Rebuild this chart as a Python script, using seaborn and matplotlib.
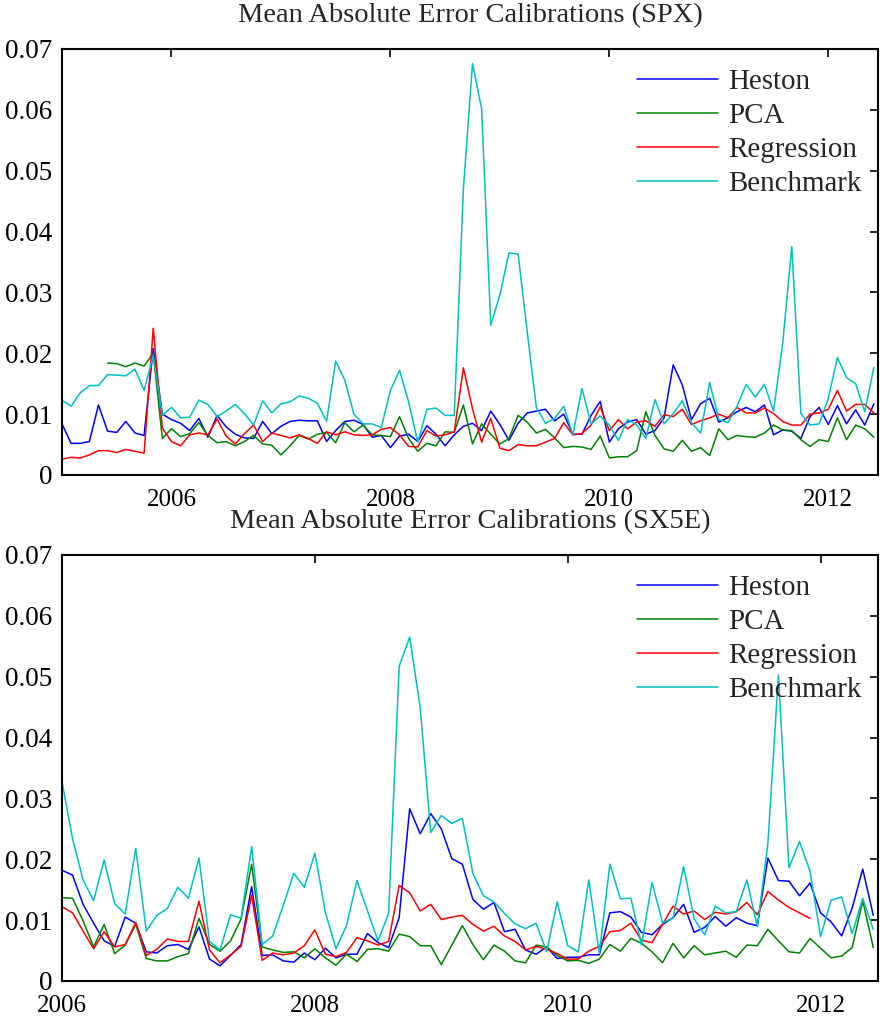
import numpy as np
import pandas as pd
import matplotlib
matplotlib.use("Agg")
import matplotlib.pyplot as plt
import seaborn as sns

nan = np.nan

# ---------------- SPX: monthly calibration errors, Jan 2005 - Jun 2012 ----------------
spx_start = 2005
spx_heston = [
    0.0084, 0.0052, 0.0052, 0.0055, 0.0115, 0.0072, 0.0070, 0.0088, 0.0069, 0.0065,
    0.0208, 0.0100, 0.0091, 0.0085, 0.0073, 0.0093, 0.0062, 0.0098, 0.0079, 0.0067,
    0.0061, 0.0060, 0.0088, 0.0068, 0.0080, 0.0088, 0.0090, 0.0089, 0.0089, 0.0055,
    0.0073, 0.0088, 0.0090, 0.0083, 0.0062, 0.0065, 0.0045, 0.0064, 0.0067, 0.0055,
    0.0081, 0.0067, 0.0048, 0.0066, 0.0080, 0.0085, 0.0073, 0.0105, 0.0083, 0.0057,
    0.0085, 0.0102, 0.0105, 0.0108, 0.0089, 0.0100, 0.0067, 0.0067, 0.0098, 0.0121,
    0.0054, 0.0076, 0.0087, 0.0091, 0.0067, 0.0073, 0.0094, 0.0181, 0.0148, 0.0091,
    0.0117, 0.0126, 0.0087, 0.0094, 0.0104, 0.0111, 0.0104, 0.0115, 0.0066, 0.0074,
    0.0072, 0.0060, 0.0096, 0.0111, 0.0083, 0.0114, 0.0084, 0.0107, 0.0082, 0.0117,
]
spx_pca = [
    nan, nan, nan, nan, nan, 0.0184, 0.0183, 0.0178, 0.0184, 0.0179,
    0.0200, 0.0060, 0.0076, 0.0063, 0.0068, 0.0086, 0.0065, 0.0053, 0.0055, 0.0048,
    0.0055, 0.0065, 0.0051, 0.0049, 0.0033, 0.0048, 0.0065, 0.0059, 0.0067, 0.0070,
    0.0053, 0.0086, 0.0071, 0.0082, 0.0066, 0.0065, 0.0063, 0.0096, 0.0060, 0.0039,
    0.0052, 0.0048, 0.0071, 0.0070, 0.0115, 0.0051, 0.0084, 0.0067, 0.0051, 0.0060,
    0.0098, 0.0087, 0.0069, 0.0075, 0.0061, 0.0045, 0.0047, 0.0046, 0.0042, 0.0064,
    0.0028, 0.0030, 0.0030, 0.0040, 0.0104, 0.0065, 0.0043, 0.0039, 0.0057, 0.0039,
    0.0045, 0.0032, 0.0076, 0.0058, 0.0065, 0.0063, 0.0062, 0.0069, 0.0082, 0.0074,
    0.0073, 0.0058, 0.0047, 0.0058, 0.0055, 0.0094, 0.0058, 0.0082, 0.0076, 0.0062,
]
spx_regression = [
    0.0026, 0.0029, 0.0028, 0.0033, 0.0040, 0.0040, 0.0037, 0.0042, 0.0039, 0.0036,
    0.0241, 0.0077, 0.0055, 0.0048, 0.0066, 0.0069, 0.0066, 0.0092, 0.0064, 0.0051,
    0.0068, 0.0082, 0.0055, 0.0069, 0.0065, 0.0061, 0.0066, 0.0060, 0.0052, 0.0071,
    0.0066, 0.0071, 0.0066, 0.0065, 0.0066, 0.0075, 0.0078, 0.0066, 0.0047, 0.0046,
    0.0073, 0.0064, 0.0066, 0.0071, 0.0176, 0.0109, 0.0054, 0.0093, 0.0044, 0.0040,
    0.0050, 0.0048, 0.0048, 0.0054, 0.0060, 0.0086, 0.0066, 0.0068, 0.0082, 0.0112,
    0.0073, 0.0091, 0.0076, 0.0087, 0.0089, 0.0080, 0.0099, 0.0096, 0.0108, 0.0083,
    0.0089, 0.0094, 0.0100, 0.0094, 0.0111, 0.0102, 0.0102, 0.0110, 0.0101, 0.0088,
    0.0082, 0.0082, 0.0100, 0.0102, 0.0108, 0.0139, 0.0105, 0.0116, 0.0116, 0.0102,
]
spx_benchmark = [
    0.0123, 0.0113, 0.0135, 0.0147, 0.0147, 0.0165, 0.0164, 0.0163, 0.0174, 0.0139,
    0.0196, 0.0098, 0.0111, 0.0094, 0.0095, 0.0123, 0.0116, 0.0096, 0.0105, 0.0116,
    0.0101, 0.0082, 0.0122, 0.0102, 0.0117, 0.0120, 0.0130, 0.0126, 0.0118, 0.0088,
    0.0187, 0.0156, 0.0100, 0.0084, 0.0084, 0.0078, 0.0139, 0.0172, 0.0120, 0.0054,
    0.0108, 0.0110, 0.0098, 0.0098, 0.0470, 0.0676, 0.0602, 0.0246, 0.0296, 0.0365,
    0.0363, 0.0235, 0.0111, 0.0085, 0.0093, 0.0113, 0.0066, 0.0142, 0.0084, 0.0097,
    0.0082, 0.0057, 0.0091, 0.0082, 0.0060, 0.0124, 0.0084, 0.0101, 0.0122, 0.0086,
    0.0069, 0.0152, 0.0091, 0.0086, 0.0113, 0.0149, 0.0128, 0.0149, 0.0105, 0.0216,
    0.0375, 0.0101, 0.0082, 0.0084, 0.0126, 0.0193, 0.0160, 0.0150, 0.0104, 0.0177,
]

# ---------------- SX5E: monthly calibration errors, Jan 2006 - Jun 2012 ----------------
sx5e_start = 2006
sx5e_heston = [
    0.0182, 0.0174, 0.0126, 0.0095, 0.0066, 0.0057, 0.0105, 0.0095, 0.0048, 0.0046,
    0.0058, 0.0060, 0.0052, 0.0089, 0.0036, 0.0025, 0.0042, 0.0060, 0.0155, 0.0042,
    0.0043, 0.0033, 0.0031, 0.0046, 0.0035, 0.0054, 0.0038, 0.0044, 0.0044, 0.0078,
    0.0063, 0.0055, 0.0104, 0.0283, 0.0242, 0.0275, 0.0250, 0.0201, 0.0192, 0.0134,
    0.0118, 0.0129, 0.0081, 0.0085, 0.0051, 0.0044, 0.0056, 0.0037, 0.0039, 0.0039,
    0.0043, 0.0043, 0.0112, 0.0114, 0.0105, 0.0080, 0.0076, 0.0093, 0.0104, 0.0126,
    0.0080, 0.0088, 0.0106, 0.0090, 0.0104, 0.0095, 0.0091, 0.0202, 0.0165, 0.0164,
    0.0140, 0.0161, 0.0112, 0.0097, 0.0074, 0.0120, 0.0184, 0.0108,
]
sx5e_pca = [
    0.0137, 0.0136, 0.0099, 0.0056, 0.0093, 0.0045, 0.0059, 0.0093, 0.0037, 0.0033,
    0.0033, 0.0040, 0.0045, 0.0103, 0.0060, 0.0049, 0.0066, 0.0102, 0.0192, 0.0056,
    0.0051, 0.0047, 0.0048, 0.0038, 0.0053, 0.0038, 0.0026, 0.0044, 0.0032, 0.0052,
    0.0053, 0.0049, 0.0077, 0.0073, 0.0058, 0.0058, 0.0027, 0.0059, 0.0091, 0.0060,
    0.0035, 0.0059, 0.0049, 0.0033, 0.0030, 0.0059, 0.0056, 0.0042, 0.0033, 0.0034,
    0.0029, 0.0036, 0.0060, 0.0049, 0.0070, 0.0062, 0.0048, 0.0030, 0.0062, 0.0038,
    0.0058, 0.0043, 0.0046, 0.0049, 0.0039, 0.0059, 0.0058, 0.0085, 0.0066, 0.0048,
    0.0046, 0.0070, 0.0054, 0.0038, 0.0041, 0.0055, 0.0132, 0.0055,
]
sx5e_regression = [
    0.0122, 0.0112, 0.0082, 0.0053, 0.0081, 0.0056, 0.0060, 0.0096, 0.0042, 0.0052,
    0.0069, 0.0065, 0.0065, 0.0131, 0.0051, 0.0030, 0.0043, 0.0057, 0.0141, 0.0034,
    0.0046, 0.0043, 0.0046, 0.0058, 0.0084, 0.0044, 0.0040, 0.0047, 0.0071, 0.0066,
    0.0059, 0.0065, 0.0157, 0.0145, 0.0115, 0.0126, 0.0101, 0.0105, 0.0108, 0.0093,
    0.0082, 0.0090, 0.0074, 0.0065, 0.0051, 0.0057, 0.0052, 0.0045, 0.0036, 0.0036,
    0.0049, 0.0057, 0.0081, 0.0083, 0.0095, 0.0067, 0.0063, 0.0093, 0.0123, 0.0110,
    0.0115, 0.0101, 0.0113, 0.0110, 0.0114, 0.0129, 0.0109, 0.0147, 0.0133, 0.0121,
    0.0112, 0.0103, nan, nan, nan, nan, nan, nan,
]
sx5e_benchmark = [
    0.0327, 0.0234, 0.0166, 0.0132, 0.0199, 0.0127, 0.0110, 0.0218, 0.0082, 0.0108,
    0.0119, 0.0154, 0.0136, 0.0202, 0.0065, 0.0051, 0.0109, 0.0103, 0.0221, 0.0060,
    0.0074, 0.0124, 0.0177, 0.0154, 0.0210, 0.0113, 0.0053, 0.0091, 0.0165, 0.0115,
    0.0066, 0.0111, 0.0517, 0.0565, 0.0449, 0.0244, 0.0272, 0.0259, 0.0267, 0.0177,
    0.0140, 0.0130, 0.0111, 0.0094, 0.0086, 0.0095, 0.0048, 0.0130, 0.0058, 0.0048,
    0.0166, 0.0045, 0.0192, 0.0135, 0.0136, 0.0059, 0.0162, 0.0096, 0.0103, 0.0188,
    0.0102, 0.0076, 0.0123, 0.0112, 0.0114, 0.0166, 0.0089, 0.0226, 0.0503, 0.0186,
    0.0229, 0.0180, 0.0073, 0.0133, 0.0138, 0.0078, 0.0136, 0.0085,
]

methods = ["Heston", "PCA", "Regression", "Benchmark"]
colors = ["#0000FF", "#008000", "#FF0000", "#00BFBF"]
year_ticks = [2006, 2008, 2010, 2012]
y_ticks = [0, 0.01, 0.02, 0.03, 0.04, 0.05, 0.06, 0.07]
y_tick_labels = ["0", "0.01", "0.02", "0.03", "0.04", "0.05", "0.06", "0.07"]

panels = [
    ("Mean Absolute Error Calibrations (SPX)", spx_start,
     [spx_heston, spx_pca, spx_regression, spx_benchmark]),
    ("Mean Absolute Error Calibrations (SX5E)", sx5e_start,
     [sx5e_heston, sx5e_pca, sx5e_regression, sx5e_benchmark]),
]

sns.set_style("white")
plt.rcParams["font.family"] = ["Liberation Serif", "DejaVu Serif"]

fig = plt.figure(figsize=(8.85, 10.24), dpi=100)
W, H = 885, 1024
axes = [
    fig.add_axes([62 / W, 1 - 475 / H, 816 / W, 426 / H]),
    fig.add_axes([62 / W, 1 - 981 / H, 816 / W, 426 / H]),
]

for ax, (title, start, series) in zip(axes, panels):
    n = len(series[0])
    months = pd.date_range(f"{start}-01-01", periods=n, freq="MS")
    t = months.year + (months.month - 1) / 12.0
    frames = []
    for name, vals in zip(methods, series):
        frames.append(pd.DataFrame({"t": t, "mae": vals, "method": name}))
    df = pd.concat(frames, ignore_index=True).dropna()

    sns.lineplot(data=df, x="t", y="mae", hue="method", hue_order=methods,
                 palette=colors, estimator=None, errorbar=None,
                 linewidth=1.1, ax=ax, legend=True)

    ax.set_xlim(start, start + (n - 1 + 0.45) / 12.0)
    ax.set_ylim(0, 0.07)
    ax.set_xticks(year_ticks)
    ax.set_xticklabels([str(y) for y in year_ticks])
    ax.set_yticks(y_ticks)
    ax.set_yticklabels(y_tick_labels)
    ax.set_xlabel("")
    ax.set_ylabel("")
    ax.set_title(title, fontsize=20.5, pad=19)

    ax.tick_params(direction="in", top=True, right=True, length=6, width=1.2,
                   colors="black")
    ax.tick_params(axis="x", pad=10, labelsize=18)
    ax.tick_params(axis="y", pad=7, labelsize=19.5)
    for sp in ax.spines.values():
        sp.set_visible(True)
        sp.set_color("black")
        sp.set_linewidth(1.5)

    handles, labels = ax.get_legend_handles_labels()
    ax.legend(handles, labels, loc="upper right", bbox_to_anchor=(1.0, 0.991),
              frameon=False, fontsize=20.9,
              handlelength=2.8, handletextpad=0.36, labelspacing=0.26,
              borderaxespad=0.15, borderpad=0.4)

fig.savefig("out.png", dpi=100)
